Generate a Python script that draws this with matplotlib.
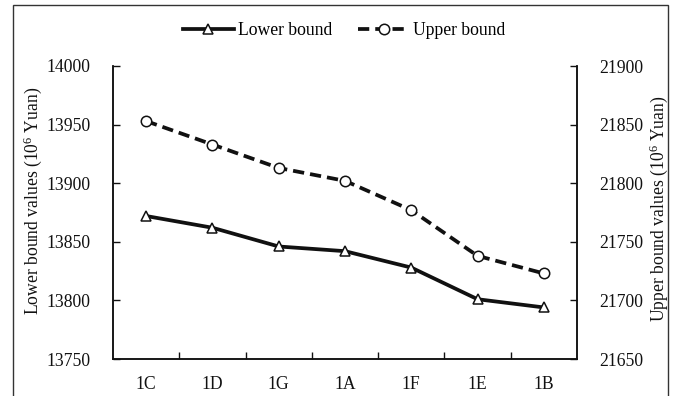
import matplotlib
matplotlib.use("Agg")
import matplotlib.pyplot as plt
from matplotlib.patches import Rectangle

plt.rcParams['font.family'] = ['Liberation Serif', 'DejaVu Serif']
plt.rcParams['mathtext.fontset'] = 'custom'
plt.rcParams['mathtext.rm'] = 'Liberation Serif'
plt.rcParams['mathtext.it'] = 'Liberation Serif'
plt.rcParams['mathtext.bf'] = 'Liberation Serif'

categories = ["1C", "1D", "1G", "1A", "1F", "1E", "1B"]
lower_bound = [13872, 13862, 13846, 13842, 13828, 13801, 13794]
upper_bound = [21853, 21833, 21813, 21802, 21777, 21738, 21723]
left_ticks = [13750, 13800, 13850, 13900, 13950, 14000]
right_ticks = [21650, 21700, 21750, 21800, 21850, 21900]

W, H = 676, 396
fig = plt.figure(figsize=(W / 100, H / 100), dpi=100)
ax = fig.add_axes([113 / W, 1 - 359 / H, (577 - 113) / W, (359 - 66) / H])
ax2 = ax.twinx()

fs = 12.7
col = '#111111'
x = list(range(len(categories)))

l1, = ax.plot(x, lower_bound, color=col, lw=2.7, marker='^', markersize=7.5,
              markerfacecolor='white', markeredgecolor=col, markeredgewidth=1.1,
              label='Lower bound', zorder=3)
l2, = ax2.plot(x, upper_bound, color=col, lw=2.7, dashes=(3, 1.6), marker='o',
               markersize=7.5, markerfacecolor='white', markeredgecolor=col,
               markeredgewidth=1.1, label='Upper bound', zorder=3)

ax.set_xlim(-0.5, len(categories) - 0.5)
ax.set_ylim(left_ticks[0], left_ticks[-1])
ax2.set_ylim(right_ticks[0], right_ticks[-1])
ax.set_yticks(left_ticks)
ax2.set_yticks(right_ticks)
ax.set_xticks(x)
ax.set_xticklabels(categories)
ax.set_xticks([i + 0.5 for i in x[:-1]], minor=True)

ax.tick_params(axis='x', which='major', length=0, pad=12, labelsize=fs, colors=col)
ax.tick_params(axis='x', which='minor', direction='in', length=5, width=1, color=col)
ax.tick_params(axis='y', direction='in', length=5, width=1, pad=16, labelsize=fs, colors=col)
ax2.tick_params(axis='y', direction='in', length=5, width=1, pad=16, labelsize=fs, colors=col)

for a in (ax, ax2):
    a.spines['top'].set_visible(False)
    for s in ('left', 'right', 'bottom'):
        a.spines[s].set_linewidth(1.1)
        a.spines[s].set_color(col)

fig.text(33 / W, 1 - 201 / H, r'Lower bound values (10$^{6}$ Yuan)', rotation=90,
         ha='center', va='center', fontsize=fs, color=col)
fig.text(659 / W, 1 - 209 / H, r'Upper bound values (10$^{6}$ Yuan)', rotation=90,
         ha='center', va='center', fontsize=fs, color=col)

fig.legend(handles=[l1, l2], loc='center', bbox_to_anchor=(344 / W, 1 - 30.5 / H),
           ncol=2, frameon=False, fontsize=fs, handlelength=2.9, handletextpad=0.2,
           columnspacing=1.5)

fig.patches.append(Rectangle((13 / W, -0.02), (668 - 13) / W, 1.02 - 5 / H,
                             transform=fig.transFigure, fill=False,
                             edgecolor='#333333', linewidth=1.0, clip_on=False))

fig.savefig('out.png', dpi=100)
